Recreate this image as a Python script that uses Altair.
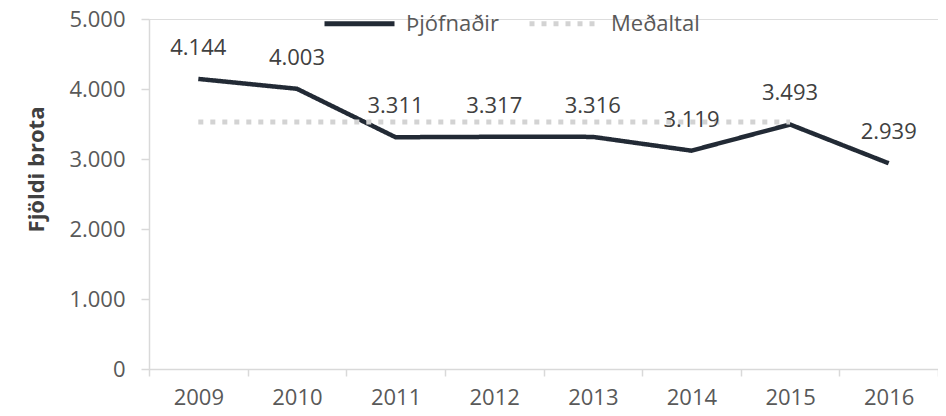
import altair as alt
import pandas as pd

years = ["2009", "2010", "2011", "2012", "2013", "2014", "2015", "2016"]
thefts = [4144, 4003, 3311, 3317, 3316, 3119, 3493, 2939]
avg_years = ["2009", "2010", "2011", "2012", "2013", "2014", "2015"]
avg_values = [3529, 3529, 3529, 3529, 3529, 3529, 3529]
series_names = ["Þjófnaðir", "Meðaltal"]
y_ticks = [0, 1000, 2000, 3000, 4000, 5000]

df = pd.DataFrame(
    [{"year": y, "value": v, "series": series_names[0]} for y, v in zip(years, thefts)]
    + [{"year": y, "value": v, "series": series_names[1]} for y, v in zip(avg_years, avg_values)]
)

FONT = "Open Sans"
LABEL = "#595959"

x_enc = alt.X(
    "year:N",
    sort=years,
    scale=alt.Scale(type="band", domain=years, paddingInner=0, paddingOuter=0),
    axis=alt.Axis(
        title=None,
        labelAngle=0,
        tickBand="extent",
        tickSize=7,
        labelPadding=11,
        labelFontSize=22,
        labelColor=LABEL,
        labelFont=FONT,
        domainColor="#d9d9d9",
        domainWidth=1.5,
        tickColor="#d9d9d9",
        tickWidth=1.5,
        grid=False,
    ),
)
y_enc = alt.Y(
    "value:Q",
    scale=alt.Scale(domain=[0, 5000], nice=False),
    axis=alt.Axis(
        title="Fjöldi brota",
        values=y_ticks,
        labelExpr="replace(format(datum.value, ','), ',', '.')",
        tickSize=8,
        labelPadding=16,
        labelFontSize=22,
        labelColor=LABEL,
        labelFont=FONT,
        titleFont=FONT,
        titleFontSize=22,
        titleFontWeight="bold",
        titleColor="#404040",
        titleX=-101,
        titleY=150,
        domainColor="#d9d9d9",
        domainWidth=1.5,
        tickColor="#d9d9d9",
        tickWidth=1.5,
        grid=False,
    ),
)
legend_opts = dict(
    title=None,
    orient="none",
    direction="horizontal",
    legendX=173,
    legendY=-33,
    symbolType="stroke",
    symbolSize=4900,
    symbolStrokeWidth=5,
    labelFontSize=22,
    labelFont=FONT,
    labelColor=LABEL,
    labelOffset=9,
    columnPadding=20,
)
color_enc = alt.Color(
    "series:N",
    scale=alt.Scale(domain=series_names, range=["#222a35", "#d3d3d3"]),
    legend=alt.Legend(**legend_opts),
)
dash_enc = alt.StrokeDash(
    "series:N",
    scale=alt.Scale(domain=series_names, range=[[1, 0], [5, 7]]),
    legend=alt.Legend(**legend_opts),
)

base = alt.Chart(df)

main_line = base.transform_filter(
    alt.datum.series == series_names[0]
).mark_line(strokeWidth=4.5, strokeJoin="miter").encode(
    x=x_enc, y=y_enc, color=color_enc, strokeDash=dash_enc
)

avg_line = base.transform_filter(
    alt.datum.series == series_names[1]
).mark_line(strokeWidth=5).encode(
    x=x_enc, y=y_enc, color=color_enc, strokeDash=dash_enc
)

labels = base.transform_filter(
    alt.datum.series == series_names[0]
).transform_calculate(
    lbl="replace(format(datum.value, ','), ',', '.')"
).mark_text(
    dy=-31, fontSize=22, font=FONT, color="#404040", baseline="middle"
).encode(
    x=x_enc, y=y_enc, text="lbl:N"
)

chart = alt.layer(main_line, avg_line, labels).properties(
    width=789,
    height=350,
    autosize=alt.AutoSizeParams(type="none"),
    padding={"left": 141, "top": 11, "right": 0, "bottom": 39},
).configure_view(stroke=None).configure(background="white")

chart.save("out.html", embed_options={"renderer": "svg", "actions": False})
